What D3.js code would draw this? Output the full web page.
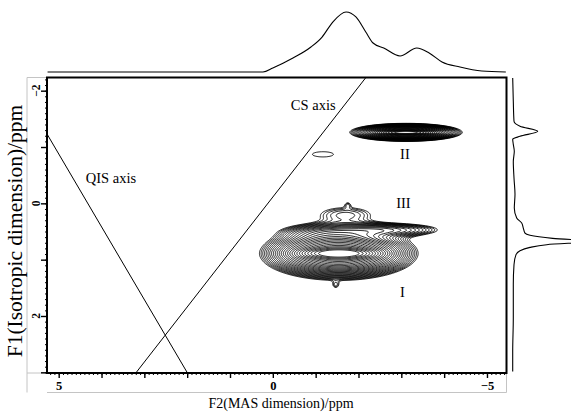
<!DOCTYPE html>
<html>
<head>
<meta charset="utf-8">
<script src="https://cdn.jsdelivr.net/npm/d3@7"></script>
<style>
  html, body { margin: 0; padding: 0; background: #fff; }
  svg { display: block; font-family: "Liberation Serif", "Times New Roman", serif; }
</style>
</head>
<body>
<svg id="chart" width="571" height="414"></svg>
<script>
// ---- Axes (ppm) ----
const f2Range = [5.273, -5.456];          // F2, MAS dimension
const f1Range = [-2.234, 3.012];          // F1, isotropic dimension
const f2MajorTicks = [5, 4, 3, 2, 1, 0, -1, -2, -3, -4, -5];
const f2TickLabels = [5, 0, -5];
const f1MajorTicks = [-2, -1, 0, 1, 2, 3];
const f1TickLabels = [-2, 0, 2];

// ---- 2D spectrum: Gaussian components (centre and width in ppm, relative height) ----
const peakNames   = ["I", "I ridge", "II", "II ridge", "III", "III left", "III top", "III knob", "I tail", "minor"];
const peakF2      = [-1.54, -1.54, -3.11, -3.11, -2.64, -1.00, -1.70, -1.75, -1.47, -1.17];
const peakF1      = [ 0.89,  0.89, -1.26, -1.26,  0.47,  0.50,  0.20,  0.02,  1.457, -0.87];
const peakWidthF2 = [0.794, 0.51, 0.572, 0.37, 0.80, 0.58, 0.56, 0.06, 0.07, 0.53];
const peakWidthF1 = [0.206, 0.053, 0.070, 0.021, 0.075, 0.09, 0.124, 0.045, 0.053, 0.10];
const peakHeight  = [0.60, 0.40, 0.55, 0.35, 0.12, 0.06, 0.065, 0.03, 0.04, 0.0445];

// contour levels: geometric series
const baseLevel = 0.04, levelFactor = 1.12, levelCount = 27;

// ---- 1D projections ----
const topProjF2  = [5.26, 0.23, 0.0, -0.47, -0.89, -1.15, -1.40, -1.71, -1.94, -2.17, -2.34, -2.59, -2.97, -3.36, -3.65, -3.95, -4.37, -4.88, -5.44];
const topProjInt = [0, 0, 0.067, 0.233, 0.417, 0.583, 0.833, 1.0, 0.917, 0.667, 0.483, 0.40, 0.267, 0.40, 0.317, 0.167, 0.083, 0.017, 0];

const sideProjF1  = [-2.226, -1.812, -1.456, -1.368, -1.279, -1.190, -1.137, -1.048, -0.924, -0.746, -0.449, -0.160, 0.083, 0.261, 0.350, 0.439, 0.528, 0.568, 0.622, 0.675, 0.734, 0.782, 0.840, 0.911, 1.089, 1.439, 2.037, 2.629, 2.984];
const sideProjInt = [0, 0.024, 0.052, 0.292, 1.0, 0.292, 0, 0.024, 0.064, 0.024, 0.052, 0.092, 0.064, 0.16, 0.36, 0.424, 0.492, 0.692, 1.6, 3.2, 1.36, 0.692, 0.292, 0.132, 0.052, 0.024, 0.024, 0, 0];

// ---- Reference lines (F2, F1 end points) ----
const qisAxis = [[5.273, -1.231], [1.993, 3.012]];
const csAxis  = [[3.20, 3.012], [-2.173, -2.234]];

// ---------------------------------------------------------------
const svg = d3.select("#chart");
const plot = { left: 47, right: 506.5, top: 77.5, bottom: 373 };

const x = d3.scaleLinear().domain(f2Range).range([plot.left, plot.right]);
const y = d3.scaleLinear().domain(f1Range).range([plot.top, plot.bottom]);
const topY = d3.scaleLinear().domain([0, 1]).range([72, 12]);
const sideX = d3.scaleLinear().domain([0, 1]).range([512.7, 537.7]);

// light panel outlines around the axis areas
svg.append("path")
  .attr("d", `M27,77.5H47M27,77.5V392.5M27,373H47M47,392.5H506.5V373`)
  .attr("fill", "none").attr("stroke", "#c4c4c4").attr("stroke-width", 1);

// ---- contour field ----
const nx = Math.round(plot.right - plot.left);
const ny = Math.round((plot.bottom - plot.top) * 2);
const gx = d3.scaleLinear().domain([0, nx]).range([plot.left, plot.right]);
const gy = d3.scaleLinear().domain([0, ny]).range([plot.top, plot.bottom]);

const peaks = peakNames.map((name, k) => ({
  name, f2: peakF2[k], f1: peakF1[k], w2: peakWidthF2[k], w1: peakWidthF1[k], h: peakHeight[k]
}));

const values = new Float64Array(nx * ny);
for (let j = 0; j < ny; j++) {
  const f1 = y.invert(gy(j + 0.5));
  for (let i = 0; i < nx; i++) {
    const f2 = x.invert(gx(i + 0.5));
    let v = 0;
    for (const p of peaks) {
      const u = (f2 - p.f2) / p.w2, w = (f1 - p.f1) / p.w1;
      const r2 = u * u + w * w;
      if (r2 < 60) v += p.h * Math.exp(-0.5 * r2);
    }
    values[i + j * nx] = v;
  }
}

const levels = d3.range(levelCount).map(k => baseLevel * Math.pow(levelFactor, k));
const contours = d3.contours().size([nx, ny]).thresholds(levels)(values);
const toPx = d3.geoTransform({ point(px, py) { this.stream.point(gx(px), gy(py)); } });
const geo = d3.geoPath(toPx);

svg.append("g")
  .selectAll("path")
  .data(contours)
  .join("path")
  .attr("d", geo)
  .attr("fill", "none")
  .attr("stroke", "#000")
  .attr("stroke-width", 0.9);

// ---- QIS / CS reference lines ----
const seg = d3.line().x(d => x(d[0])).y(d => y(d[1]));
svg.append("path").attr("d", seg(qisAxis)).attr("stroke", "#000").attr("stroke-width", 1).attr("fill", "none");
svg.append("path").attr("d", seg(csAxis)).attr("stroke", "#000").attr("stroke-width", 1).attr("fill", "none");

// ---- frame ----
svg.append("rect")
  .attr("x", plot.left).attr("y", plot.top)
  .attr("width", plot.right - plot.left).attr("height", plot.bottom - plot.top)
  .attr("fill", "none").attr("stroke", "#000").attr("stroke-width", 2);

// ---- F2 axis ----
const fmt = d3.format("");
const f2Minor = d3.range(-54, 53).map(d => d / 10);
svg.append("g").attr("transform", `translate(0,${plot.bottom})`)
  .call(d3.axisBottom(x).tickValues(f2Minor).tickSize(2).tickFormat(""))
  .call(g => g.select(".domain").remove());
svg.append("g").attr("transform", `translate(0,${plot.bottom})`)
  .call(d3.axisBottom(x).tickValues(f2MajorTicks).tickSize(5).tickPadding(3)
    .tickFormat(d => f2TickLabels.includes(d) ? fmt(d) : ""))
  .call(g => g.select(".domain").remove())
  .call(g => g.selectAll("line").attr("stroke-width", 1.4))
  .call(g => g.selectAll("text")
    .attr("font-family", "Liberation Serif, Times New Roman, serif")
    .attr("font-size", 12.5).attr("font-weight", "bold").attr("fill", "#000"));

// ---- F1 axis ----
const f1Minor = d3.range(-22, 31).map(d => d / 10);
svg.append("g").attr("transform", `translate(${plot.left},0)`)
  .call(d3.axisLeft(y).tickValues(f1Minor).tickSize(2).tickFormat(""))
  .call(g => g.select(".domain").remove());
svg.append("g").attr("transform", `translate(${plot.left},0)`)
  .call(d3.axisLeft(y).tickValues(f1MajorTicks).tickSize(6).tickFormat(""))
  .call(g => g.select(".domain").remove())
  .call(g => g.selectAll("line").attr("stroke-width", 1.4));
svg.append("g").selectAll("text")
  .data(f1TickLabels)
  .join("text")
  .attr("transform", d => `translate(40,${y(d)}) rotate(-90)`)
  .attr("text-anchor", "middle")
  .attr("font-size", 11.5).attr("font-weight", "bold")
  .text(d => fmt(d));

// ---- projections ----
const topPts = topProjF2.map((f2, k) => ({ f2, v: topProjInt[k] }));
svg.append("path")
  .attr("d", d3.line().x(d => x(d.f2)).y(d => topY(d.v)).curve(d3.curveMonotoneX)(topPts))
  .attr("fill", "none").attr("stroke", "#000").attr("stroke-width", 1.1);

const sidePts = sideProjF1.map((f1, k) => ({ f1, v: sideProjInt[k] }));
svg.append("path")
  .attr("d", d3.line().x(d => sideX(d.v)).y(d => y(d.f1)).curve(d3.curveMonotoneY)(sidePts))
  .attr("fill", "none").attr("stroke", "#000").attr("stroke-width", 1.1);

// ---- annotations ----
const notes = [
  { text: "QIS axis", f2: 4.369, f1: -0.361, anchor: "start" },
  { text: "CS axis",  f2: -0.421, f1: -1.661, anchor: "start" },
  { text: "II",  f2: -3.084, f1: -0.79, anchor: "middle" },
  { text: "III", f2: -3.049, f1: 0.08, anchor: "middle" },
  { text: "I",   f2: -3.026, f1: 1.67, anchor: "middle" }
];
svg.append("g").selectAll("text")
  .data(notes)
  .join("text")
  .attr("x", d => x(d.f2)).attr("y", d => y(d.f1))
  .attr("text-anchor", d => d.anchor)
  .attr("font-size", 14.5)
  .text(d => d.text);

// ---- axis titles ----
svg.append("text")
  .attr("x", 281).attr("y", 408)
  .attr("text-anchor", "middle").attr("font-size", 14)
  .text("F2(MAS dimension)/ppm");
svg.append("text")
  .attr("transform", "translate(21.5,231) rotate(-90)")
  .attr("text-anchor", "middle").attr("font-size", 21.5)
  .text("F1(Isotropic dimension)/ppm");
</script>
</body>
</html>
